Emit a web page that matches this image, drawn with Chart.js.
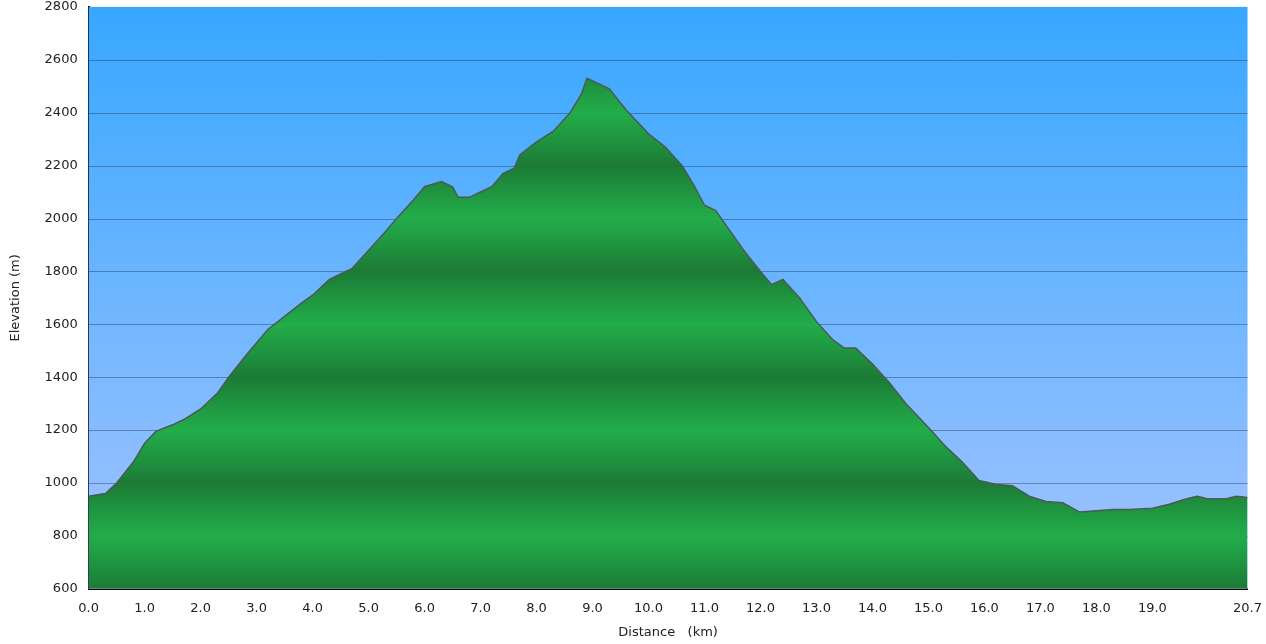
<!DOCTYPE html>
<html><head><meta charset="utf-8">
<script src="https://cdn.jsdelivr.net/npm/chart.js@4"></script>
<style>html,body{margin:0;padding:0;background:#fff}#w{width:1266px;height:644px}</style>
</head><body><div id="w"><canvas id="c"></canvas></div>
<script>
const distances=[0,0.3,0.5,0.8,1.0,1.2,1.5,1.7,2.0,2.3,2.5,2.8,3.0,3.2,3.5,3.8,4.0,4.3,4.5,4.7,5.0,5.3,5.5,5.8,6.0,6.3,6.5,6.6,6.8,7.0,7.2,7.4,7.6,7.7,8.0,8.3,8.6,8.8,8.9,9.0,9.3,9.6,10.0,10.3,10.6,10.8,11.0,11.2,11.5,11.7,12.0,12.2,12.4,12.7,13.0,13.3,13.5,13.7,14.0,14.3,14.6,15.0,15.3,15.6,15.9,16.2,16.5,16.8,17.1,17.4,17.7,18.0,18.3,18.6,19.0,19.3,19.6,19.8,20.0,20.3,20.5,20.7];
const elevations=[950,960,1000,1080,1150,1195,1220,1240,1280,1340,1400,1480,1530,1580,1630,1680,1710,1770,1790,1810,1880,1950,2000,2070,2120,2140,2120,2080,2080,2100,2120,2170,2190,2240,2290,2330,2400,2470,2530,2520,2490,2410,2320,2270,2200,2130,2050,2030,1940,1880,1800,1750,1770,1700,1610,1540,1510,1510,1450,1380,1300,1210,1140,1080,1010,995,990,950,930,925,890,895,900,900,905,920,940,950,940,940,950,945];
const xTicks=[0,1,2,3,4,5,6,7,8,9,10,11,12,13,14,15,16,17,18,19,20.7];
const bg={id:'bg',beforeDatasetsDraw(ch){const {ctx,chartArea:a}=ch;const g=ctx.createLinearGradient(0,a.top,0,a.bottom);g.addColorStop(0,'#37a7ff');g.addColorStop(1,'#a4c4ff');ctx.save();ctx.fillStyle=g;ctx.fillRect(a.left,a.top,a.width,a.height);
const y=ch.scales.y;ctx.strokeStyle='rgba(40,60,90,0.45)';ctx.lineWidth=1;for(let v=800;v<2800;v+=200){const p=Math.round(y.getPixelForValue(v))+0.5;ctx.beginPath();ctx.moveTo(a.left,p);ctx.lineTo(a.right,p);ctx.stroke();}ctx.restore();}};
function greenFill(ctx){const ch=ctx.chart;const a=ch.chartArea;if(!a)return '#22aa44';const y=ch.scales.y;const t=y.getPixelForValue(2800),b=y.getPixelForValue(600);const g=ch.ctx.createLinearGradient(0,t,0,b);for(let v=2800;v>=600;v-=100){const s=(y.getPixelForValue(v)-t)/(b-t);const dark=(v%400===200);g.addColorStop(Math.min(1,Math.max(0,s)),dark?'#1c7a36':(v%400===0?'#22ad4a':'#1f9540'));}return g;}
new Chart(document.getElementById('c'),{type:'line',plugins:[bg],
data:{datasets:[{data:distances.map((d,i)=>({x:d,y:elevations[i]})),fill:'start',backgroundColor:greenFill,borderColor:'#4a5a55',borderWidth:1.5,pointRadius:0,tension:0}]},
options:{responsive:true,maintainAspectRatio:false,animation:false,layout:{padding:{top:0,right:0,left:8,bottom:2}},
plugins:{legend:{display:false},tooltip:{enabled:false}},
scales:{x:{type:'linear',min:0,max:20.7,afterBuildTicks(s){s.ticks=xTicks.map(v=>({value:v}));},grid:{display:false,drawTicks:true},border:{color:'#000',width:2},
ticks:{color:'#222',font:{family:'DejaVu Sans',size:13},maxRotation:0,autoSkip:false,padding:4,callback:v=>v.toFixed(1)},
title:{display:true,text:'Distance   (km)',color:'#222',font:{family:'DejaVu Sans',size:13},padding:{top:4,bottom:2}}},
y:{min:600,max:2800,ticks:{stepSize:200,color:'#222',font:{family:'DejaVu Sans',size:13,lineHeight:0.6},callback:v=>String(v)},grid:{display:false},border:{color:'#000',width:2},
title:{display:true,text:'Elevation (m)',color:'#222',font:{family:'DejaVu Sans',size:13},padding:{top:0,bottom:18}}}}}});
</script></body></html>
